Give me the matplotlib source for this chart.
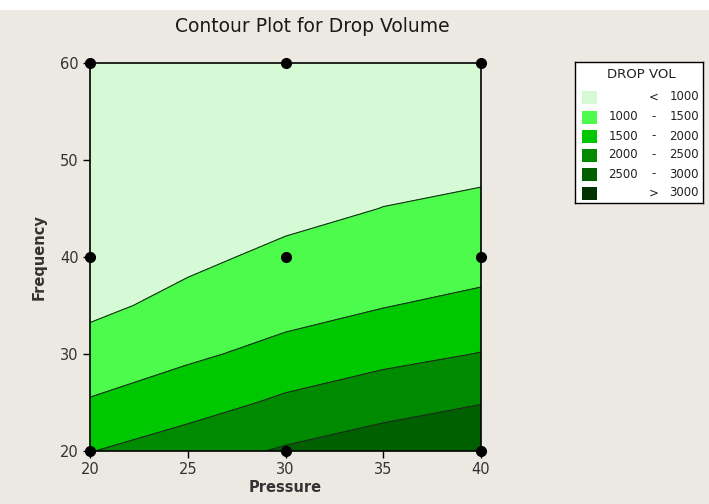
import numpy as np
import matplotlib
matplotlib.use("Agg")
import matplotlib.pyplot as plt
from matplotlib.patches import Rectangle

# response grid (drop volume)
pressure = [20, 25, 30, 35, 40]
frequency = [20, 25, 30, 35, 40, 45, 50, 55, 60]
drop_vol = [
    [1985, 2280, 2555, 2780, 2960],
    [1540, 1780, 2090, 2297, 2480],
    [1175, 1421, 1640, 1860, 2015],
    [905, 1120, 1330, 1480, 1640],
    [760, 913, 1090, 1250, 1272],
    [680, 810, 880, 1006, 1060],
    [630, 740, 770, 850, 924],
    [600, 690, 700, 770, 830],
    [580, 660, 650, 720, 760],
]

# design points
design_p = [20, 20, 20, 30, 30, 30, 40, 40, 40]
design_f = [20, 40, 60, 20, 40, 60, 20, 40, 60]

levels = [1000, 1500, 2000, 2500, 3000]
colors = ['#d5fad5', '#4dfb4d', '#00c800', '#008a00', '#006000', '#003300']

bg = '#ece9e2'

fig = plt.figure(figsize=(7.09, 5.04), dpi=100, facecolor=bg)
fig.patches.append(Rectangle((0, 494 / 504), 1, 10 / 504, transform=fig.transFigure,
                             facecolor='white', edgecolor='none', zorder=-1))

ax = fig.add_axes([90 / 709, 53 / 504, 391 / 709, 388 / 504])
X, Y = np.meshgrid(pressure, frequency)
Z = np.array(drop_vol)
bounds = [0] + levels + [10000]
ax.contourf(X, Y, Z, levels=bounds, colors=colors)
ax.contour(X, Y, Z, levels=levels, colors='#1c2e1c', linewidths=0.8)
ax.plot(design_p, design_f, 'o', color='black', markersize=7, clip_on=False, zorder=5)

ax.set_xlim(20, 40)
ax.set_ylim(20, 60)
ax.set_xticks([20, 25, 30, 35, 40])
ax.set_yticks([20, 30, 40, 50, 60])
ax.tick_params(direction='out', length=5, width=1, labelsize=10.5, labelcolor='#333333', pad=3)
for s in ax.spines.values():
    s.set_linewidth(1.2)
    s.set_color('black')

ax.set_xlabel('Pressure', fontsize=10.5, fontweight='bold', color='#333333', labelpad=2)
ax.set_ylabel('Frequency', fontsize=10.5, fontweight='bold', color='#333333', labelpad=10)
fig.text(312 / 709, 1 - 27 / 504, 'Contour Plot for Drop Volume', ha='center', va='center',
         fontsize=13.5, color='#1a1a1a')

# legend box, drawn in pixel-like coords
lg = fig.add_axes([575 / 709, (504 - 203) / 504, 128 / 709, 141 / 504])
lg.set_xlim(0, 128)
lg.set_ylim(141, 0)
lg.set_xticks([])
lg.set_yticks([])
lg.set_facecolor('white')
for s in lg.spines.values():
    s.set_linewidth(1)
    s.set_color('black')

lg.text(66, 13, 'DROP VOL', ha='center', va='center', fontsize=9.5, color='#222222')
rows_y = [35, 55, 74, 93, 112, 131]
labels_left = [''] + [str(v) for v in levels[:-1]] + ['']
labels_mid = ['<'] + ['-'] * (len(levels) - 1) + ['>']
labels_right = [str(levels[0])] + [str(v) for v in levels[1:]] + [str(levels[-1])]
for i, yy in enumerate(rows_y):
    lg.add_patch(Rectangle((7, yy - 6.5), 15, 13, facecolor=colors[i], edgecolor='none'))
    lg.text(63, yy, labels_left[i], ha='right', va='center', fontsize=8.5, color='#222222')
    lg.text(79, yy, labels_mid[i], ha='center', va='center', fontsize=8.5, color='#222222')
    lg.text(124, yy, labels_right[i], ha='right', va='center', fontsize=8.5, color='#222222')

fig.savefig('out.png', dpi=100, facecolor=bg)
